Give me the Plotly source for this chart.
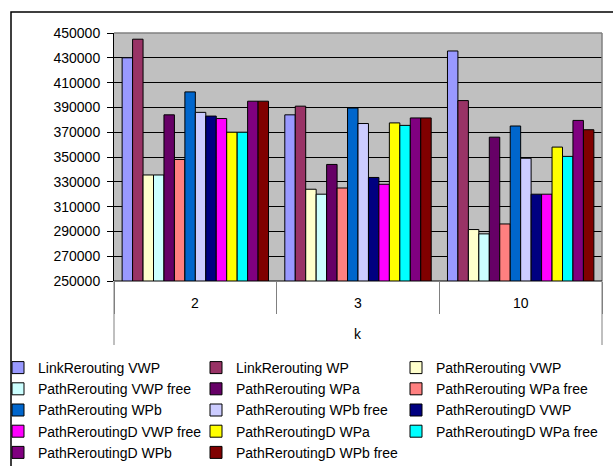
import plotly.graph_objects as go

categories = ["2", "3", "10"]
series_names = [
    "LinkRerouting VWP", "LinkRerouting WP", "PathRerouting VWP",
    "PathRerouting VWP free", "PathRerouting WPa", "PathRerouting WPa free",
    "PathRerouting WPb", "PathRerouting WPb free", "PathReroutingD VWP",
    "PathReroutingD VWP free", "PathReroutingD WPa", "PathReroutingD WPa free",
    "PathReroutingD WPb", "PathReroutingD WPb free",
]
values_k2 = [430000, 445000, 335500, 335500, 384000, 348000, 402500, 386000,
             383000, 381000, 370000, 370000, 395000, 395000]
values_k3 = [384000, 391000, 324000, 320000, 344000, 325000, 389500, 377000,
             333500, 328000, 377500, 375500, 381500, 381500]
values_k10 = [435500, 395500, 291500, 288000, 366000, 296000, 375000, 349000,
              320000, 320000, 358000, 350500, 379500, 372000]
colors = ["#9999FF", "#993366", "#FFFFCC", "#CCFFFF", "#660066", "#FF8080",
          "#0066CC", "#CCCCFF", "#000080", "#FF00FF", "#FFFF00", "#00FFFF",
          "#800080", "#800000"]
y_ticks = list(range(250000, 450001, 20000))
x_title = "k"

W, H = 613, 466
L, R, T, B = 114, 11, 33, 185
PW, PH = W - L - R, H - T - B

def px_x(x):
    return (x - L) / PW

def px_y(y):
    return (H - B - y) / PH

legend_ids = ["legend", "legend2", "legend3"]

fig = go.Figure()
for i, name in enumerate(series_names):
    fig.add_trace(go.Bar(
        name=name,
        x=categories,
        y=[values_k2[i], values_k3[i], values_k10[i]],
        marker=dict(color=colors[i], line=dict(color="black", width=1)),
        legend=legend_ids[i % 3],
    ))

font = dict(family="Liberation Sans, Arial, sans-serif", size=14, color="black")

legend_cols_px = [-2, 196, 396]
legends = {}
for lid, xp in zip(legend_ids, legend_cols_px):
    legends[lid] = dict(
        orientation="v", xref="paper", yref="paper",
        x=px_x(xp), xanchor="left", y=px_y(352), yanchor="top",
        font=font, bgcolor="rgba(0,0,0,0)", traceorder="normal",
        itemwidth=30, tracegroupgap=0,
    )

fig.update_layout(
    width=W, height=H,
    margin=dict(l=L, r=R, t=T, b=B, autoexpand=False),
    barmode="group", bargap=0.1, bargroupgap=0,
    plot_bgcolor="#C0C0C0", paper_bgcolor="white",
    font=font,
    showlegend=True,
    xaxis=dict(
        type="category", categoryorder="array", categoryarray=categories,
        range=[-0.5, len(categories) - 0.5],
        showticklabels=False, ticks="outside", tickson="boundaries",
        ticklen=32, tickcolor="#808080", tickwidth=1,
        showline=False, showgrid=False, zeroline=False,
    ),
    yaxis=dict(
        range=[250000, 450000], tickvals=y_ticks,
        ticktext=[str(v) for v in y_ticks],
        ticks="outside", ticklen=6, tickcolor="black",
        showline=True, linecolor="black", linewidth=1,
        showgrid=True, gridcolor="black", gridwidth=1,
        zeroline=False, tickfont=font, ticklabelstandoff=4,
    ),
    **legends,
)

for idx, c in enumerate(categories):
    fig.add_annotation(x=idx, xref="x", y=px_y(303), yref="paper",
                       text=c, showarrow=False, font=font,
                       xanchor="center", yanchor="middle")
fig.add_annotation(x=0.5, xref="paper", y=px_y(334), yref="paper",
                   text=x_title, showarrow=False, font=font,
                   xanchor="center", yanchor="middle")

shapes = [
    dict(type="line", xref="paper", yref="paper", x0=0, x1=1, y0=1, y1=1,
         line=dict(color="#808080", width=1.5)),
    dict(type="line", xref="paper", yref="paper", x0=1, x1=1, y0=0, y1=1,
         line=dict(color="#808080", width=1.5)),
    dict(type="line", xref="paper", yref="paper", x0=0, x1=1, y0=0, y1=0,
         line=dict(color="black", width=1)),
    dict(type="line", xref="paper", yref="paper", x0=0, x1=0, y0=0, y1=px_y(345),
         line=dict(color="#808080", width=1)),
    dict(type="line", xref="paper", yref="paper", x0=1, x1=1, y0=0, y1=px_y(345),
         line=dict(color="#808080", width=1)),
    dict(type="rect", xref="paper", yref="paper",
         x0=px_x(11), x1=px_x(640), y0=px_y(12), y1=px_y(500),
         line=dict(color="black", width=1.5), layer="below"),
]
fig.update_layout(shapes=shapes)

fig.write_html("out.html",
               config={"displayModeBar": False},
               post_script="document.body.style.margin='0';document.body.style.overflow='hidden';")
